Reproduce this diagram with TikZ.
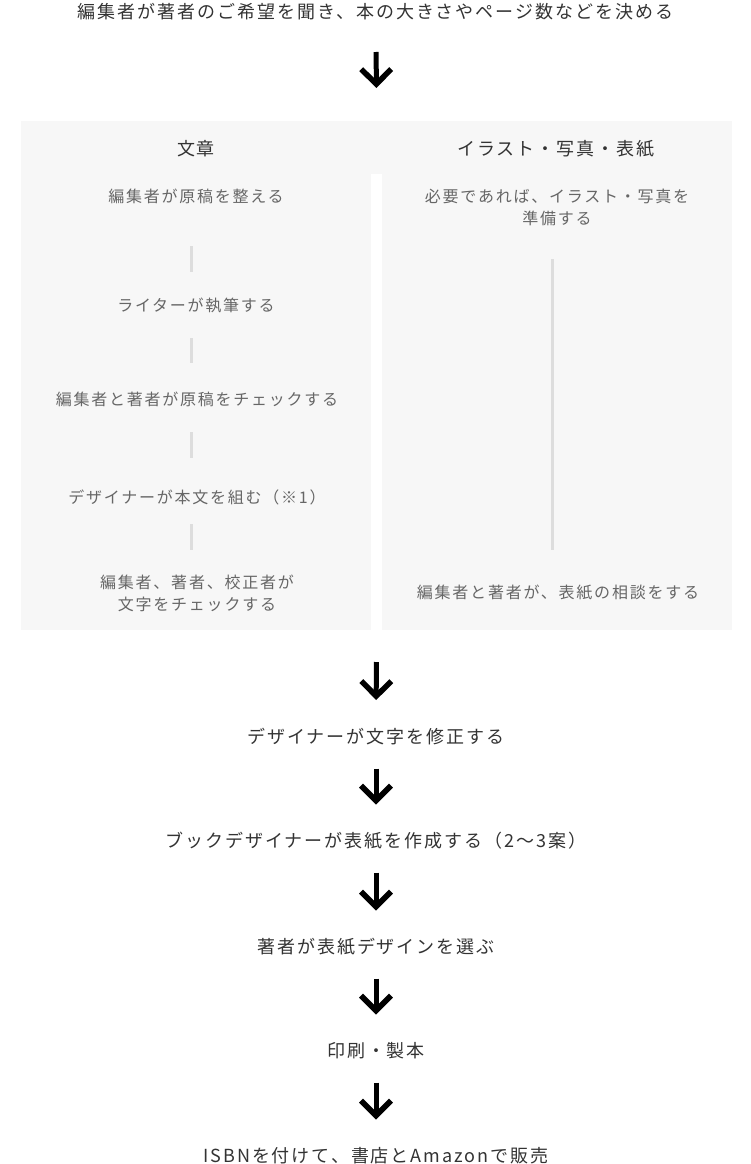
\documentclass[tikz,border=0pt]{standalone}
\usepackage{fontspec}
\setmainfont{Noto Sans CJK JP}
\newfontfamily\jpfont[LetterSpace=11]{Noto Sans CJK JP}
\usetikzlibrary{arrows.meta}

\definecolor{panelgray}{HTML}{F7F7F7}
\definecolor{linkgray}{HTML}{DDDDDD}
\definecolor{textdark}{HTML}{333333}
\definecolor{textgray}{HTML}{666666}

\tikzset{
  flowtext/.style={anchor=base, inner sep=0pt, align=center, text=textdark, font=\jpfont\fontsize{18}{22}\selectfont},
  steptext/.style={anchor=base, inner sep=0pt, align=center, text=textgray, font=\jpfont\fontsize{16}{22}\selectfont},
  link/.style={draw=linkgray, line width=3pt},
  bigarrow/.style={line width=5pt, -{Straight Barb[sharp, length=15pt, width=30pt, line width'=5.5pt]}},
}

\begin{document}
\begin{tikzpicture}[x=1pt, y=-1pt]
        \useasboundingbox (0,0) rectangle (750,1164);
        \node[fill=panelgray, inner sep=0pt, outer sep=0pt, minimum width=711pt, minimum height=509pt] (panel) at (376.5,375.5) {};
        \fill[white] (371,174) rectangle (382,630);   % gap between columns
        \coordinate (colL) at (191.5,0);
        \coordinate (colR) at (552,0);

        \node[flowtext] (title) at (375.5,19) {編集者が著者のご希望を聞き、本の大きさやページ数などを決める};

        % left column
        \node[flowtext] (h1) at (196,155) {文章};
        \node[steptext] (e1) at (196,202) {編集者が原稿を整える};
        \node[steptext] (e2) at (196,311) {ライターが執筆する};
        \node[steptext] (e3) at (197,405) {編集者と著者が原稿をチェックする};
        \node[steptext] (e4) at (197,503) {デザイナーが本文を組む（※1）};
        \node[steptext] (e5) at (197,610) {編集者、著者、校正者が\\文字をチェックする};

        % right column
        \node[flowtext] (h2) at (556,155) {イラスト・写真・表紙};
        \node[steptext] (r1) at (557,224) {必要であれば、イラスト・写真を\\準備する};
        \node[steptext] (r2) at (558,598) {編集者と著者が、表紙の相談をする};

        \draw[link, shorten <=44pt, shorten >=39pt] (e1.base -| colL) -- (e2.base -| colL);
        \draw[link, shorten <=27pt, shorten >=42pt] (e2.base -| colL) -- (e3.base -| colL);
        \draw[link, shorten <=27pt, shorten >=45pt] (e3.base -| colL) -- (e4.base -| colL);
        \draw[link, shorten <=21pt, shorten >=60pt] (e4.base -| colL) -- (e5.base -| colL);
        \draw[link, shorten <=35pt, shorten >=48pt] (r1.base -| colR) -- (r2.base -| colR);

        % after the panel
        \node[flowtext] (f1) at (376,743) {デザイナーが文字を修正する};
        \node[flowtext] (f2) at (376,847) {ブックデザイナーが表紙を作成する（2〜3案）};
        \node[flowtext] (f3) at (376,953) {著者が表紙デザインを選ぶ};
        \node[flowtext] (f4) at (376,1057) {印刷・製本};
        \node[flowtext] (f5) at (376,1162) {ISBNを付けて、書店とAmazonで販売};

        \draw[bigarrow, shorten <=33pt, shorten >=33pt] (title.base -| f1) -- (panel.north);
        \draw[bigarrow, shorten <=32pt, shorten >=43pt] (panel.south) -- (f1.base);
        \foreach \a/\b in {f1/f2, f2/f3, f3/f4, f4/f5}
            \draw[bigarrow, shorten <=25.5pt, shorten >=42.5pt] (\a.base) -- (\b.base);
\end{tikzpicture}
\end{document}
